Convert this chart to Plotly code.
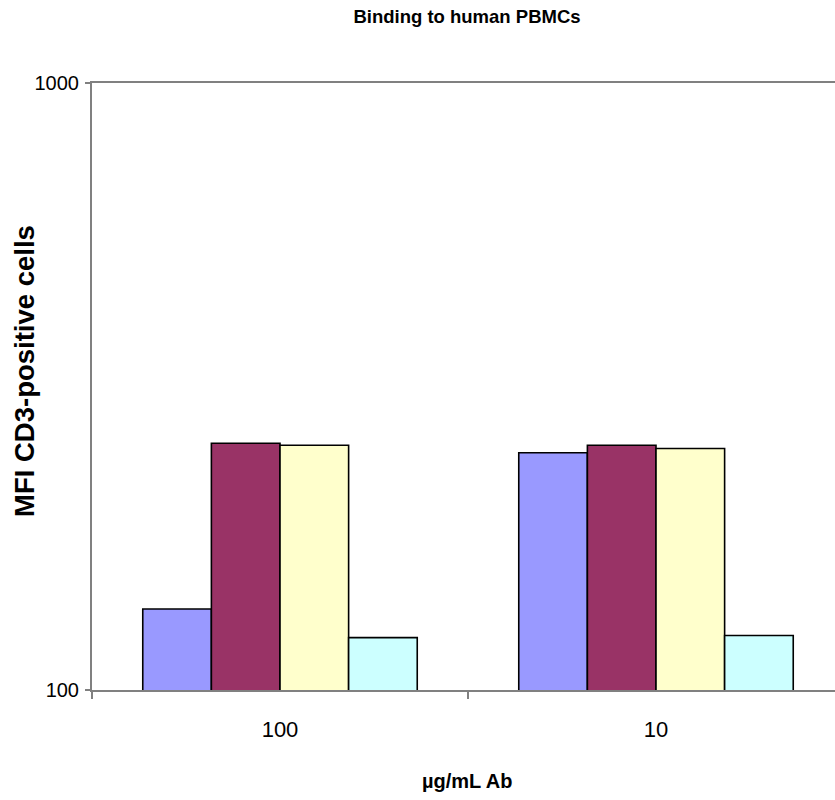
import plotly.graph_objects as go

# Antibody concentrations (µg/mL) on the category axis
concentrations = ["100", "10"]

# Mean fluorescence intensity of CD3-positive cells for each antibody
series_names = ["Ab 1", "Ab 2", "Ab 3", "Ab 4"]
mfi_ab1 = [136, 246]
mfi_ab2 = [255, 253]
mfi_ab3 = [253, 250]
mfi_ab4 = [122, 123]

series_values = [mfi_ab1, mfi_ab2, mfi_ab3, mfi_ab4]
series_colors = ["#9999FF", "#993366", "#FFFFCC", "#CCFFFF"]

FONT_REG = "Liberation Sans, Arial, sans-serif"

W, H = 835, 800
L, R, T, B = 92, 0, 83, 110
plot_w = W - L - R
plot_h = H - T - B

fig = go.Figure()
for name, vals, color in zip(series_names, series_values, series_colors):
    fig.add_trace(go.Bar(
        name=name,
        x=concentrations,
        y=vals,
        marker=dict(color=color, line=dict(color="#000000", width=1.6)),
    ))

fig.update_layout(
    width=W,
    height=H,
    margin=dict(l=L, r=R, t=T, b=B),
    paper_bgcolor="white",
    plot_bgcolor="white",
    showlegend=False,
    barmode="group",
    bargap=0.27,
    bargroupgap=0,
    title=dict(
        text="<b>Binding to human PBMCs</b>",
        x=467 / W, xanchor="center", y=1 - 17 / H, yanchor="middle",
        font=dict(family=FONT_REG, size=18.5, color="#000000"),
    ),
    font=dict(family=FONT_REG, color="#000000"),
    annotations=[
        dict(
            text="<b>MFI CD3-positive cells</b>",
            textangle=-90,
            xref="paper", yref="paper",
            x=(24 - L) / plot_w, y=(H - B - 371) / plot_h,
            xanchor="center", yanchor="middle",
            showarrow=False,
            font=dict(family=FONT_REG, size=27.5, color="#000000"),
        ),
        dict(
            text="<b>µg/mL Ab</b>",
            xref="paper", yref="paper",
            x=(467 - L) / plot_w, y=(H - B - 781) / plot_h,
            xanchor="center", yanchor="middle",
            showarrow=False,
            font=dict(family=FONT_REG, size=20, color="#000000"),
        ),
    ],
)

fig.update_xaxes(
    type="category",
    range=[-0.5, -0.5 + plot_w / 376],
    showline=True, linecolor="#808080", linewidth=2, mirror=True,
    ticks="outside", tickson="boundaries", ticklen=7, tickcolor="#808080", tickwidth=2,
    ticklabelstandoff=19,
    tickfont=dict(size=22, family=FONT_REG),
    showgrid=False,
)

fig.update_yaxes(
    type="log",
    range=[2, 3],
    tickvals=[100, 1000],
    ticktext=["100", "1000"],
    showline=True, linecolor="#808080", linewidth=2,
    ticks="outside", ticklen=5, tickcolor="#808080", tickwidth=2,
    ticklabelstandoff=2,
    tickfont=dict(size=20, family=FONT_REG),
    showgrid=False,
    zeroline=False,
)

fig.write_html("out.html")
